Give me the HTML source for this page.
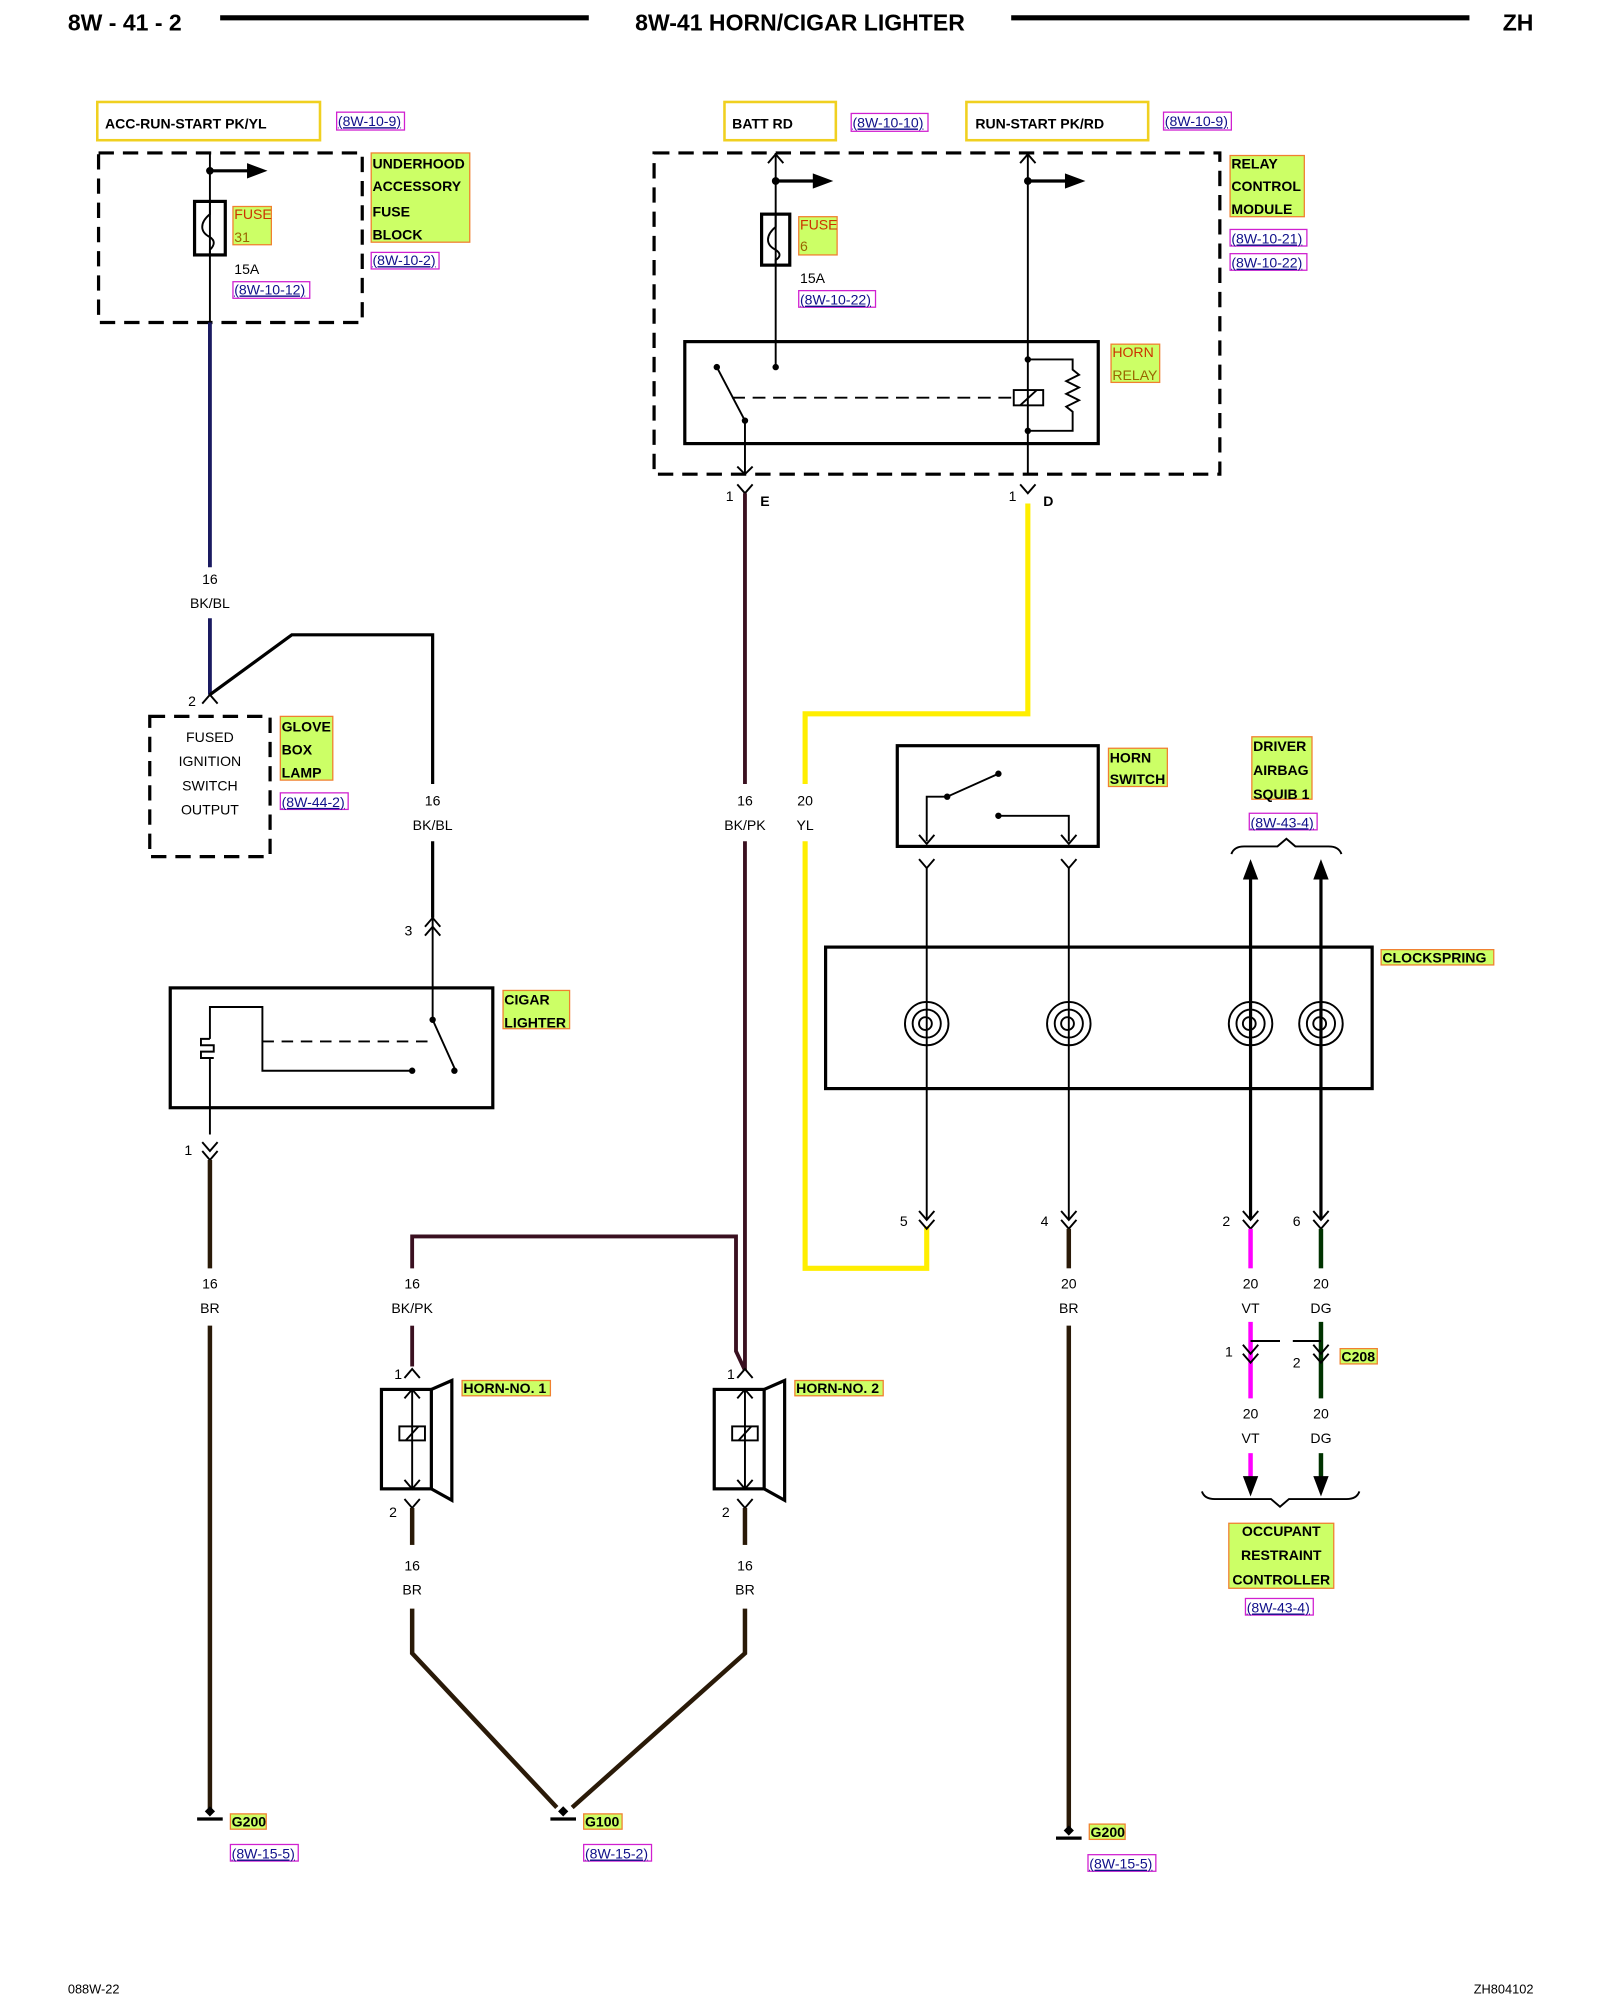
<!DOCTYPE html>
<html><head><meta charset="utf-8"><style>
html,body{margin:0;padding:0;background:#fff;width:1600px;height:2000px;overflow:hidden}
svg{display:block}
text{font-family:"Liberation Sans",Arial,sans-serif}
.b{font-weight:bold}
.w{fill:none;stroke:#000;stroke-width:2.5}
.t{fill:none;stroke:#000;stroke-width:1.5}
.lbl{fill:#ccff66;stroke:#f08030;stroke-width:1}
.ref{fill:#fff;stroke:#d020d0;stroke-width:1}
.rt{font-size:11px;fill:#10108a;text-decoration:underline}
.s{font-size:11px}
.g{font-size:11px;font-weight:bold}
</style></head><body>
<svg width="1600" height="2000" viewBox="0 0 1250 1569" preserveAspectRatio="none">
<!-- header -->
<text x="53" y="24" class="b" font-size="18">8W - 41 - 2</text>
<line x1="172" y1="14" x2="460" y2="14" stroke="#000" stroke-width="4"/>
<text x="625" y="24" class="b" font-size="18" text-anchor="middle">8W-41 HORN/CIGAR LIGHTER</text>
<line x1="790" y1="14" x2="1148" y2="14" stroke="#000" stroke-width="4"/>
<text x="1198" y="24" class="b" font-size="18" text-anchor="end">ZH</text>
<text x="53" y="1564" font-size="10">088W-22</text>
<text x="1198" y="1564" font-size="10" text-anchor="end">ZH804102</text>

<!-- ===== LEFT ===== -->
<rect x="76" y="80" width="174" height="30" fill="#fff" stroke="#f0d020" stroke-width="2"/>
<text x="82" y="101" class="g">ACC-RUN-START PK/YL</text>
<rect x="263" y="88" width="53" height="14" class="ref"/><text x="264" y="99" class="rt">(8W-10-9)</text>
<rect x="77" y="120" width="206" height="133" fill="none" stroke="#000" stroke-width="2.5" stroke-dasharray="12,7"/>
<line x1="164" y1="120" x2="164" y2="253" class="t" stroke-width="2"/>
<line x1="164" y1="253" x2="164" y2="445" stroke="#1a1a60" stroke-width="3"/>
<line x1="164" y1="485" x2="164" y2="545" stroke="#1a1a60" stroke-width="3"/>
<circle cx="164" cy="134" r="3"/>
<line x1="164" y1="134" x2="195" y2="134" class="w"/><path d="M193 128 L209 134 L193 140Z"/>
<rect x="152" y="158" width="24" height="42" class="w" fill="#fff"/>
<path d="M164 158 v10 q-6 5 -6 10 q0 5 6 8 q6 4 0 10 v4" class="t"/>
<rect x="182" y="162" width="30" height="30" class="lbl"/>
<text x="183" y="172" font-size="11" fill="#cc3300">FUSE</text><text x="183" y="190" font-size="11" fill="#996600">31</text>
<text x="183" y="215" class="s">15A</text>
<rect x="182" y="221" width="60" height="13" class="ref"/><text x="183" y="231" class="rt">(8W-10-12)</text>
<rect x="290" y="120" width="77" height="70" class="lbl"/>
<text x="291" y="132" class="g">UNDERHOOD</text><text x="291" y="150" class="g">ACCESSORY</text><text x="291" y="170" class="g">FUSE</text><text x="291" y="188" class="g">BLOCK</text>
<rect x="290" y="198" width="53" height="13" class="ref"/><text x="291" y="208" class="rt">(8W-10-2)</text>
<text x="164" y="458" class="s" text-anchor="middle">16</text><text x="164" y="477" class="s" text-anchor="middle">BK/BL</text>
<path d="M158 552 L164 545 L170 552" class="t"/>
<text x="147" y="554" class="s">2</text>
<path d="M164 545 L228 498 L338 498 L338 615" class="w" stroke-width="3"/>
<line x1="338" y1="660" x2="338" y2="720" class="w" stroke-width="3"/>
<text x="338" y="632" class="s" text-anchor="middle">16</text><text x="338" y="651" class="s" text-anchor="middle">BK/BL</text>
<rect x="117" y="562" width="94" height="110" fill="none" stroke="#000" stroke-width="2.5" stroke-dasharray="12,7"/>
<text x="164" y="582" class="s" text-anchor="middle">FUSED</text><text x="164" y="601" class="s" text-anchor="middle">IGNITION</text><text x="164" y="620" class="s" text-anchor="middle">SWITCH</text><text x="164" y="639" class="s" text-anchor="middle">OUTPUT</text>
<rect x="219" y="562" width="41" height="50" class="lbl"/>
<text x="220" y="574" class="g">GLOVE</text><text x="220" y="592" class="g">BOX</text><text x="220" y="610" class="g">LAMP</text>
<rect x="219" y="622" width="53" height="13" class="ref"/><text x="220" y="633" class="rt">(8W-44-2)</text>
<path d="M332 727 L338 720 L344 727 M332 734 L338 727 L344 734" class="t"/>
<text x="316" y="734" class="s">3</text>
<line x1="338" y1="720" x2="338" y2="800" class="t"/>
<rect x="133" y="775" width="252" height="94" class="w" stroke-width="3"/>
<path d="M338 800 L356 840" class="t"/><circle cx="338" cy="800" r="2.5"/><circle cx="355" cy="840" r="2.5"/>
<line x1="205" y1="817" x2="340" y2="817" class="t" stroke-dasharray="9,6"/>
<path d="M164 815 V790 H205 V840 H322" class="t"/><circle cx="322" cy="840" r="2.5"/>
<path d="M164 815 h-7 v5 h10 v5 h-10 v5 h10 M164 830 v60" class="t"/>
<rect x="393" y="777" width="52" height="30" class="lbl"/>
<text x="394" y="788" class="g">CIGAR</text><text x="394" y="806" class="g">LIGHTER</text>
<path d="M158 896 L164 903 L170 896 M158 903 L164 910 L170 903" class="t"/>
<text x="144" y="906" class="s">1</text>
<line x1="164" y1="910" x2="164" y2="995" stroke="#2a1a08" stroke-width="3.5"/>
<line x1="164" y1="1040" x2="164" y2="1420" stroke="#2a1a08" stroke-width="3.5"/>
<text x="164" y="1011" class="s" text-anchor="middle">16</text><text x="164" y="1030" class="s" text-anchor="middle">BR</text>
<line x1="154" y1="1427" x2="174" y2="1427" stroke="#000" stroke-width="2.5"/><path d="M164 1417 l4 4 l-4 4 l-4 -4z"/>
<rect x="180" y="1423" width="28" height="12" class="lbl"/><text x="181" y="1433" class="g" font-size="10">G200</text>
<rect x="180" y="1447" width="53" height="13" class="ref"/><text x="181" y="1458" class="rt">(8W-15-5)</text>

<!-- ===== MIDDLE ===== -->
<rect x="566" y="80" width="87" height="30" fill="#fff" stroke="#f0d020" stroke-width="2"/>
<text x="572" y="101" class="g">BATT RD</text>
<rect x="665" y="89" width="60" height="14" class="ref"/><text x="666" y="100" class="rt">(8W-10-10)</text>
<rect x="755" y="80" width="142" height="30" fill="#fff" stroke="#f0d020" stroke-width="2"/>
<text x="762" y="101" class="g">RUN-START PK/RD</text>
<rect x="909" y="88" width="53" height="14" class="ref"/><text x="910" y="99" class="rt">(8W-10-9)</text>
<rect x="511" y="120" width="442" height="252" fill="none" stroke="#000" stroke-width="2.5" stroke-dasharray="12,7"/>
<line x1="606" y1="120" x2="606" y2="288" class="t"/><path d="M600 128 L606 121 L612 128" class="t"/>
<circle cx="606" cy="142" r="3"/><line x1="606" y1="142" x2="637" y2="142" class="w"/><path d="M635 136 L651 142 L635 148Z"/>
<rect x="595" y="168" width="22" height="40" class="w" fill="#fff"/>
<path d="M606 168 v10 q-6 5 -6 10 q0 5 6 8 q6 4 0 8 v4" class="t"/>
<rect x="624" y="170" width="30" height="30" class="lbl"/>
<text x="625" y="180" font-size="11" fill="#cc3300">FUSE</text><text x="625" y="197" font-size="11" fill="#996600">6</text>
<text x="625" y="222" class="s">15A</text>
<rect x="624" y="228" width="60" height="13" class="ref"/><text x="625" y="239" class="rt">(8W-10-22)</text>
<line x1="803" y1="120" x2="803" y2="372" class="t"/><path d="M797 128 L803 121 L809 128" class="t"/>
<circle cx="803" cy="142" r="3"/><line x1="803" y1="142" x2="834" y2="142" class="w"/><path d="M832 136 L848 142 L832 148Z"/>
<rect x="535" y="268" width="323" height="80" class="w" stroke-width="3"/>
<circle cx="606" cy="288" r="2.5"/>
<path d="M560 288 L582 330" class="t"/><circle cx="560" cy="288" r="2.5"/><circle cx="582" cy="330" r="2.5"/>
<line x1="572" y1="312" x2="790" y2="312" class="t" stroke-dasharray="10,6"/>
<rect x="792" y="306" width="23" height="12" class="t" fill="#fff"/><line x1="797" y1="318" x2="810" y2="306" class="t"/>
<circle cx="803" cy="282" r="2.5"/><circle cx="803" cy="338" r="2.5"/>
<path d="M803 282 H838 V290 l5 4 l-10 5 l10 5 l-10 5 l10 5 l-10 5 l5 4 V338 H803" class="t"/>
<rect x="868" y="270" width="38" height="30" class="lbl"/>
<text x="869" y="280" font-size="11" fill="#cc3300">HORN</text><text x="869" y="298" class="s" fill="#996600">RELAY</text>
<rect x="961" y="122" width="58" height="48" class="lbl"/>
<text x="962" y="132" class="g">RELAY</text><text x="962" y="150" class="g">CONTROL</text><text x="962" y="168" class="g">MODULE</text>
<rect x="961" y="180" width="60" height="13" class="ref"/><text x="962" y="191" class="rt">(8W-10-21)</text>
<rect x="961" y="199" width="60" height="13" class="ref"/><text x="962" y="210" class="rt">(8W-10-22)</text>
<line x1="582" y1="330" x2="582" y2="372" class="t"/><path d="M576 366 L582 372 L588 366" class="t"/>
<path d="M576 380 L582 387 L588 380" class="t"/><text x="567" y="393" class="s">1</text><text x="594" y="397" class="g">E</text>
<path d="M797 380 L803 387 L809 380" class="t"/><text x="788" y="393" class="s">1</text><text x="815" y="397" class="g">D</text>
<line x1="582" y1="387" x2="582" y2="615" stroke="#3a1020" stroke-width="3"/>
<line x1="582" y1="660" x2="582" y2="1075" stroke="#3a1020" stroke-width="3"/>
<text x="582" y="632" class="s" text-anchor="middle">16</text><text x="582" y="651" class="s" text-anchor="middle">BK/PK</text>
<path d="M803 395 V560 H629 V615 M629 660 V995 H724 V962" fill="none" stroke="#ffee00" stroke-width="4"/>
<text x="629" y="632" class="s" text-anchor="middle">20</text><text x="629" y="651" class="s" text-anchor="middle">YL</text>
<rect x="701" y="585" width="157" height="79" class="w" stroke-width="3"/>
<path d="M724 660 V625 H740 L780 607" class="t"/><circle cx="740" cy="625" r="2.5"/><circle cx="780" cy="607" r="2.5"/>
<path d="M780 640 H835 V660" class="t"/><circle cx="780" cy="640" r="2.5"/>
<path d="M718 655 L724 662 L730 655 M829 655 L835 662 L841 655" class="t"/>
<rect x="866" y="587" width="46" height="30" class="lbl"/>
<text x="867" y="598" class="g">HORN</text><text x="867" y="615" class="g">SWITCH</text>
<path d="M718 674 L724 681 L730 674 M829 674 L835 681 L841 674" class="t"/>
<line x1="724" y1="681" x2="724" y2="957" class="t"/><line x1="835" y1="681" x2="835" y2="957" class="t"/>
<rect x="978" y="578" width="47" height="49" class="lbl"/>
<text x="979" y="589" class="g">DRIVER</text><text x="979" y="608" class="g">AIRBAG</text><text x="979" y="627" class="g">SQUIB 1</text>
<rect x="976" y="638" width="53" height="13" class="ref"/><text x="977" y="649" class="rt">(8W-43-4)</text>
<path d="M962 670 Q964 664 972 664 H998 L1005 658 L1012 664 H1038 Q1046 664 1048 670" class="t"/>
<line x1="977" y1="688" x2="977" y2="957" class="w"/><path d="M971 690 L977 674 L983 690Z"/>
<line x1="1032" y1="688" x2="1032" y2="957" class="w"/><path d="M1026 690 L1032 674 L1038 690Z"/>
<rect x="645" y="743" width="427" height="111" class="w" stroke-width="3"/>
<g class="t" stroke-width="1.8">
<g transform="translate(724,803)"><circle r="17"/><circle r="11"/><circle cx="-1" r="5"/></g>
<g transform="translate(835,803)"><circle r="17"/><circle r="11"/><circle cx="-1" r="5"/></g>
<g transform="translate(977,803)"><circle r="17"/><circle r="11"/><circle cx="-1" r="5"/></g>
<g transform="translate(1032,803)"><circle r="17"/><circle r="11"/><circle cx="-1" r="5"/></g>
</g>
<rect x="1079" y="745" width="88" height="12" class="lbl"/><text x="1080" y="755" class="g">CLOCKSPRING</text>
<g class="t">
<path d="M718 950 L724 957 L730 950 M718 957 L724 964 L730 957"/>
<path d="M829 950 L835 957 L841 950 M829 957 L835 964 L841 957"/>
<path d="M971 950 L977 957 L983 950 M971 957 L977 964 L983 957"/>
<path d="M1026 950 L1032 957 L1038 950 M1026 957 L1032 964 L1038 957"/>
</g>
<text x="703" y="962" class="s">5</text><text x="813" y="962" class="s">4</text><text x="955" y="962" class="s">2</text><text x="1010" y="962" class="s">6</text>
<line x1="835" y1="964" x2="835" y2="995" stroke="#2a1a08" stroke-width="3.5"/>
<line x1="835" y1="1040" x2="835" y2="1435" stroke="#2a1a08" stroke-width="3.5"/>
<text x="835" y="1011" class="s" text-anchor="middle">20</text><text x="835" y="1030" class="s" text-anchor="middle">BR</text>
<line x1="825" y1="1442" x2="845" y2="1442" stroke="#000" stroke-width="2.5"/><path d="M835 1432 l4 4 l-4 4 l-4 -4z"/>
<rect x="851" y="1431" width="28" height="12" class="lbl"/><text x="852" y="1441" class="g" font-size="10">G200</text>
<rect x="850" y="1455" width="53" height="13" class="ref"/><text x="851" y="1466" class="rt">(8W-15-5)</text>
<line x1="977" y1="964" x2="977" y2="995" stroke="#ff00ff" stroke-width="3.5"/>
<line x1="1032" y1="964" x2="1032" y2="995" stroke="#003300" stroke-width="3.5"/>
<text x="977" y="1011" class="s" text-anchor="middle">20</text><text x="977" y="1030" class="s" text-anchor="middle">VT</text>
<text x="1032" y="1011" class="s" text-anchor="middle">20</text><text x="1032" y="1030" class="s" text-anchor="middle">DG</text>
<line x1="977" y1="1037" x2="977" y2="1097" stroke="#ff00ff" stroke-width="3.5"/>
<line x1="1032" y1="1037" x2="1032" y2="1097" stroke="#003300" stroke-width="3.5"/>
<path d="M977 1052 H1000 M1010 1052 H1032" class="t"/>
<path d="M971 1055 L977 1062 L983 1055 M971 1062 L977 1069 L983 1062" class="t"/>
<path d="M1026 1055 L1032 1062 L1038 1055 M1026 1062 L1032 1069 L1038 1062" class="t"/>
<text x="957" y="1064" class="s">1</text><text x="1010" y="1073" class="s">2</text>
<rect x="1047" y="1058" width="29" height="12" class="lbl"/><text x="1048" y="1068" class="g" font-size="10">C208</text>
<text x="977" y="1113" class="s" text-anchor="middle">20</text><text x="977" y="1132" class="s" text-anchor="middle">VT</text>
<text x="1032" y="1113" class="s" text-anchor="middle">20</text><text x="1032" y="1132" class="s" text-anchor="middle">DG</text>
<line x1="977" y1="1140" x2="977" y2="1162" stroke="#ff00ff" stroke-width="3.5"/><path d="M971 1158 L977 1174 L983 1158Z"/>
<line x1="1032" y1="1140" x2="1032" y2="1162" stroke="#003300" stroke-width="3.5"/><path d="M1026 1158 L1032 1174 L1038 1158Z"/>
<path d="M939 1170 Q941 1176 949 1176 H993 L1000 1182 L1007 1176 H1052 Q1060 1176 1062 1170" class="t"/>
<rect x="960" y="1195" width="82" height="51" class="lbl"/>
<text x="1001" y="1205" class="g" text-anchor="middle">OCCUPANT</text><text x="1001" y="1224" class="g" text-anchor="middle">RESTRAINT</text><text x="1001" y="1243" class="g" text-anchor="middle">CONTROLLER</text>
<rect x="973" y="1254" width="53" height="13" class="ref"/><text x="974" y="1265" class="rt">(8W-43-4)</text>

<!-- horns -->
<path d="M322 995 V970 H575 V1060 L582 1075" fill="none" stroke="#3a1020" stroke-width="3"/>
<line x1="322" y1="1040" x2="322" y2="1072" stroke="#3a1020" stroke-width="3"/>
<text x="322" y="1011" class="s" text-anchor="middle">16</text><text x="322" y="1030" class="s" text-anchor="middle">BK/PK</text>
<g id="h1">
<path d="M316 1081 L322 1074 L328 1081" class="t"/>
<rect x="298" y="1090" width="39" height="78" class="w" stroke-width="3"/>
<path d="M337 1090 L353 1083 V1177 L337 1168" class="w" stroke-width="3"/>
<line x1="322" y1="1090" x2="322" y2="1168" class="t"/>
<path d="M316 1097 L322 1090 L328 1097 M316 1161 L322 1168 L328 1161" class="t"/>
<rect x="312" y="1119" width="20" height="11" class="t" fill="#fff"/><line x1="317" y1="1130" x2="327" y2="1119" class="t"/>
<path d="M316 1176 L322 1183 L328 1176" class="t"/>
</g>
<use href="#h1" transform="translate(260,0)"/>
<text x="308" y="1082" class="s">1</text><text x="568" y="1082" class="s">1</text>
<text x="304" y="1190" class="s">2</text><text x="564" y="1190" class="s">2</text>
<rect x="361" y="1083" width="69" height="12" class="lbl"/><text x="362" y="1093" class="g">HORN-NO. 1</text>
<rect x="621" y="1083" width="69" height="12" class="lbl"/><text x="622" y="1093" class="g">HORN-NO. 2</text>
<line x1="322" y1="1183" x2="322" y2="1212" stroke="#2a1a08" stroke-width="3.5"/>
<line x1="582" y1="1183" x2="582" y2="1212" stroke="#2a1a08" stroke-width="3.5"/>
<text x="322" y="1232" class="s" text-anchor="middle">16</text><text x="322" y="1251" class="s" text-anchor="middle">BR</text>
<text x="582" y="1232" class="s" text-anchor="middle">16</text><text x="582" y="1251" class="s" text-anchor="middle">BR</text>
<path d="M322 1262 V1297 L435 1418" fill="none" stroke="#2a1a08" stroke-width="3.5"/>
<path d="M582 1262 V1297 L447 1418" fill="none" stroke="#2a1a08" stroke-width="3.5"/>
<line x1="430" y1="1427" x2="450" y2="1427" stroke="#000" stroke-width="2.5"/><path d="M440 1417 l4 4 l-4 4 l-4 -4z"/>
<rect x="456" y="1423" width="30" height="12" class="lbl"/><text x="457" y="1433" class="g" font-size="10">G100</text>
<rect x="456" y="1447" width="53" height="13" class="ref"/><text x="457" y="1458" class="rt">(8W-15-2)</text>
</svg>
</body></html>
